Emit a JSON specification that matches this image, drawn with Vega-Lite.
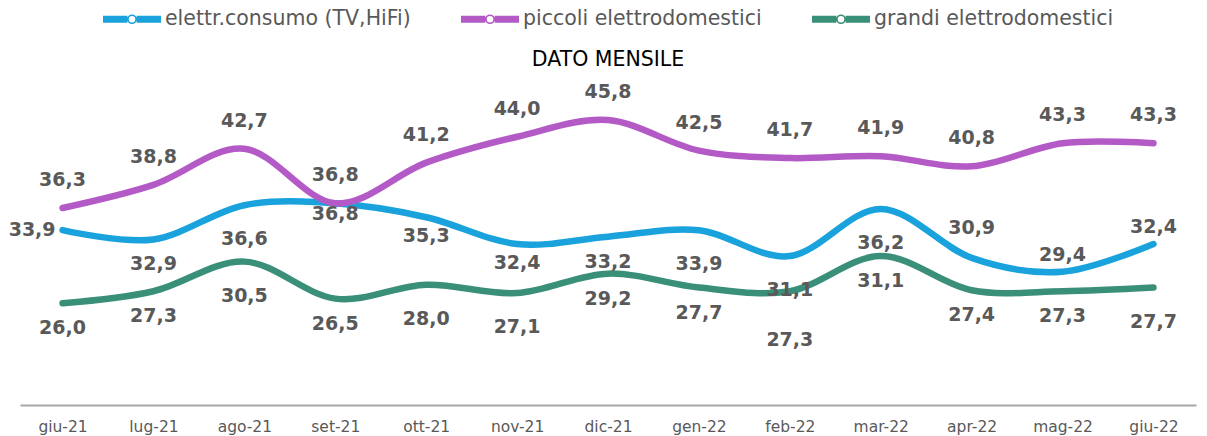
{
  "$schema": "https://vega.github.io/schema/vega-lite/v6.json",
  "width": 1176,
  "height": 370,
  "autosize": {"type": "none"},
  "padding": {"left": 20, "top": 35, "right": 11, "bottom": 31},
  "background": "white",
  "title": {"text": "DATO MENSILE", "anchor": "middle", "frame": "group", "orient": "top", "offset": 0, "dy": 91, "baseline": "middle", "fontSize": 20.5, "fontWeight": "normal", "color": "#000000", "font": "DejaVu Sans"},
  "config": {
    "view": {"stroke": null},
    "font": "DejaVu Sans"
  },
  "data": {"values": [
    {"month": "giu-21", "series": "elettr.consumo (TV,HiFi)", "value": 33.9},
    {"month": "lug-21", "series": "elettr.consumo (TV,HiFi)", "value": 32.9},
    {"month": "ago-21", "series": "elettr.consumo (TV,HiFi)", "value": 36.6},
    {"month": "set-21", "series": "elettr.consumo (TV,HiFi)", "value": 36.8},
    {"month": "ott-21", "series": "elettr.consumo (TV,HiFi)", "value": 35.3},
    {"month": "nov-21", "series": "elettr.consumo (TV,HiFi)", "value": 32.4},
    {"month": "dic-21", "series": "elettr.consumo (TV,HiFi)", "value": 33.2},
    {"month": "gen-22", "series": "elettr.consumo (TV,HiFi)", "value": 33.9},
    {"month": "feb-22", "series": "elettr.consumo (TV,HiFi)", "value": 31.1},
    {"month": "mar-22", "series": "elettr.consumo (TV,HiFi)", "value": 36.2},
    {"month": "apr-22", "series": "elettr.consumo (TV,HiFi)", "value": 30.9},
    {"month": "mag-22", "series": "elettr.consumo (TV,HiFi)", "value": 29.4},
    {"month": "giu-22", "series": "elettr.consumo (TV,HiFi)", "value": 32.4},
    {"month": "giu-21", "series": "piccoli elettrodomestici", "value": 36.3},
    {"month": "lug-21", "series": "piccoli elettrodomestici", "value": 38.8},
    {"month": "ago-21", "series": "piccoli elettrodomestici", "value": 42.7},
    {"month": "set-21", "series": "piccoli elettrodomestici", "value": 36.8},
    {"month": "ott-21", "series": "piccoli elettrodomestici", "value": 41.2},
    {"month": "nov-21", "series": "piccoli elettrodomestici", "value": 44.0},
    {"month": "dic-21", "series": "piccoli elettrodomestici", "value": 45.8},
    {"month": "gen-22", "series": "piccoli elettrodomestici", "value": 42.5},
    {"month": "feb-22", "series": "piccoli elettrodomestici", "value": 41.7},
    {"month": "mar-22", "series": "piccoli elettrodomestici", "value": 41.9},
    {"month": "apr-22", "series": "piccoli elettrodomestici", "value": 40.8},
    {"month": "mag-22", "series": "piccoli elettrodomestici", "value": 43.3},
    {"month": "giu-22", "series": "piccoli elettrodomestici", "value": 43.3},
    {"month": "giu-21", "series": "grandi elettrodomestici", "value": 26.0},
    {"month": "lug-21", "series": "grandi elettrodomestici", "value": 27.3},
    {"month": "ago-21", "series": "grandi elettrodomestici", "value": 30.5},
    {"month": "set-21", "series": "grandi elettrodomestici", "value": 26.5},
    {"month": "ott-21", "series": "grandi elettrodomestici", "value": 28.0},
    {"month": "nov-21", "series": "grandi elettrodomestici", "value": 27.1},
    {"month": "dic-21", "series": "grandi elettrodomestici", "value": 29.2},
    {"month": "gen-22", "series": "grandi elettrodomestici", "value": 27.7},
    {"month": "feb-22", "series": "grandi elettrodomestici", "value": 27.3},
    {"month": "mar-22", "series": "grandi elettrodomestici", "value": 31.1},
    {"month": "apr-22", "series": "grandi elettrodomestici", "value": 27.4},
    {"month": "mag-22", "series": "grandi elettrodomestici", "value": 27.3},
    {"month": "giu-22", "series": "grandi elettrodomestici", "value": 27.7}
  ]},
  "transform": [{"calculate": "replace(format(datum.value, '.1f'), '.', ',')", "as": "label"}],
  "layer": [
    {
      "mark": {"type": "line", "interpolate": "cardinal", "strokeWidth": 6.5, "strokeCap": "round"},
      "encoding": {
        "x": {
          "field": "month", "type": "nominal",
          "scale": {"type": "point", "padding": 0.468, "domain": ["giu-21","lug-21","ago-21","set-21","ott-21","nov-21","dic-21","gen-22","feb-22","mar-22","apr-22","mag-22","giu-22"]},
          "axis": {"title": null, "domainColor": "#a6a6a6", "domainWidth": 2, "ticks": false, "labelFontSize": 15.5, "labelColor": "#595959", "labelPadding": 14, "labelAngle": 0, "grid": false}
        },
        "y": {"field": "value", "type": "quantitative", "scale": {"domain": [15, 55], "nice": false, "zero": false}, "axis": null},
        "color": {
          "field": "series", "type": "nominal",
          "scale": {"domain": ["elettr.consumo (TV,HiFi)", "piccoli elettrodomestici", "grandi elettrodomestici"], "range": ["#19A2DC", "#B45AC6", "#3A8F78"]},
          "legend": {
            "title": null,
            "orient": "none",
            "direction": "horizontal",
            "legendX": 82,
            "legendY": -46,
            "symbolType": "M -1 -0.09 L -0.16 -0.09 M -1 -0.045 L -0.16 -0.045 M -1 0 L -0.16 0 M -1 0.045 L -0.16 0.045 M -1 0.09 L -0.16 0.09 M 0.16 -0.09 L 1 -0.09 M 0.16 -0.045 L 1 -0.045 M 0.16 0 L 1 0 M 0.16 0.045 L 1 0.045 M 0.16 0.09 L 1 0.09 M 0.14 0 A 0.14 0.14 0 1 1 -0.14 0 A 0.14 0.14 0 1 1 0.14 0 Z",
            "symbolSize": 3364,
            "symbolStrokeWidth": 1.6,
            "symbolFillColor": "white",
            "labelFontSize": 20.5,
            "labelColor": "#595959",
            "labelOffset": 3,
            "columnPadding": 46,
            "labelLimit": 400
          }
        }
      }
    },
    {
      "transform": [{"filter": "datum.series == 'piccoli elettrodomestici'"}],
      "mark": {"type": "text", "fontWeight": "bold", "fontSize": 19, "color": "#595959", "baseline": "middle", "dy": -28},
      "encoding": {"x": {"field": "month", "type": "nominal"}, "y": {"field": "value", "type": "quantitative"}, "text": {"field": "label", "type": "nominal"}}
    },
    {
      "transform": [{"filter": "datum.series == 'elettr.consumo (TV,HiFi)' && datum.month == 'apr-22'"}],
      "mark": {"type": "text", "fontWeight": "bold", "fontSize": 19, "color": "#595959", "baseline": "middle", "dy": -30},
      "encoding": {"x": {"field": "month", "type": "nominal"}, "y": {"field": "value", "type": "quantitative"}, "text": {"field": "label", "type": "nominal"}}
    },
    {
      "transform": [{"filter": "datum.series == 'elettr.consumo (TV,HiFi)' && (datum.month == 'mag-22' || datum.month == 'giu-22')"}],
      "mark": {"type": "text", "fontWeight": "bold", "fontSize": 19, "color": "#595959", "baseline": "middle", "dy": -17},
      "encoding": {"x": {"field": "month", "type": "nominal"}, "y": {"field": "value", "type": "quantitative"}, "text": {"field": "label", "type": "nominal"}}
    },
    {
      "transform": [{"filter": "datum.series == 'elettr.consumo (TV,HiFi)' && datum.month == 'set-21'"}],
      "mark": {"type": "text", "fontWeight": "bold", "fontSize": 19, "color": "#595959", "baseline": "middle", "dy": 11},
      "encoding": {"x": {"field": "month", "type": "nominal"}, "y": {"field": "value", "type": "quantitative"}, "text": {"field": "label", "type": "nominal"}}
    },
    {
      "transform": [{"filter": "datum.series == 'elettr.consumo (TV,HiFi)' && (datum.month == 'ott-21' || datum.month == 'nov-21')"}],
      "mark": {"type": "text", "fontWeight": "bold", "fontSize": 19, "color": "#595959", "baseline": "middle", "dy": 19},
      "encoding": {"x": {"field": "month", "type": "nominal"}, "y": {"field": "value", "type": "quantitative"}, "text": {"field": "label", "type": "nominal"}}
    },
    {
      "transform": [{"filter": "(datum.series == 'grandi elettrodomestici' && indexof(['giu-21','lug-21','set-21','dic-21','gen-22','mar-22','apr-22','mag-22'], datum.month) >= 0) || (datum.series == 'elettr.consumo (TV,HiFi)' && indexof(['lug-21','dic-21'], datum.month) >= 0)"}],
      "mark": {"type": "text", "fontWeight": "bold", "fontSize": 19, "color": "#595959", "baseline": "middle", "dy": 25},
      "encoding": {"x": {"field": "month", "type": "nominal"}, "y": {"field": "value", "type": "quantitative"}, "text": {"field": "label", "type": "nominal"}}
    },
    {
      "transform": [{"filter": "(datum.series == 'grandi elettrodomestici' && indexof(['ago-21','ott-21','nov-21','giu-22'], datum.month) >= 0) || (datum.series == 'elettr.consumo (TV,HiFi)' && indexof(['ago-21','gen-22','feb-22','mar-22'], datum.month) >= 0)"}],
      "mark": {"type": "text", "fontWeight": "bold", "fontSize": 19, "color": "#595959", "baseline": "middle", "dy": 34},
      "encoding": {"x": {"field": "month", "type": "nominal"}, "y": {"field": "value", "type": "quantitative"}, "text": {"field": "label", "type": "nominal"}}
    },
    {
      "transform": [{"filter": "datum.series == 'grandi elettrodomestici' && datum.month == 'feb-22'"}],
      "mark": {"type": "text", "fontWeight": "bold", "fontSize": 19, "color": "#595959", "baseline": "middle", "dy": 49},
      "encoding": {"x": {"field": "month", "type": "nominal"}, "y": {"field": "value", "type": "quantitative"}, "text": {"field": "label", "type": "nominal"}}
    },
    {
      "transform": [{"filter": "datum.series == 'elettr.consumo (TV,HiFi)' && datum.month == 'giu-21'"}],
      "mark": {"type": "text", "fontWeight": "bold", "fontSize": 19, "color": "#595959", "baseline": "middle", "align": "right", "dx": -7},
      "encoding": {"x": {"field": "month", "type": "nominal"}, "y": {"field": "value", "type": "quantitative"}, "text": {"field": "label", "type": "nominal"}}
    }
  ]
}
